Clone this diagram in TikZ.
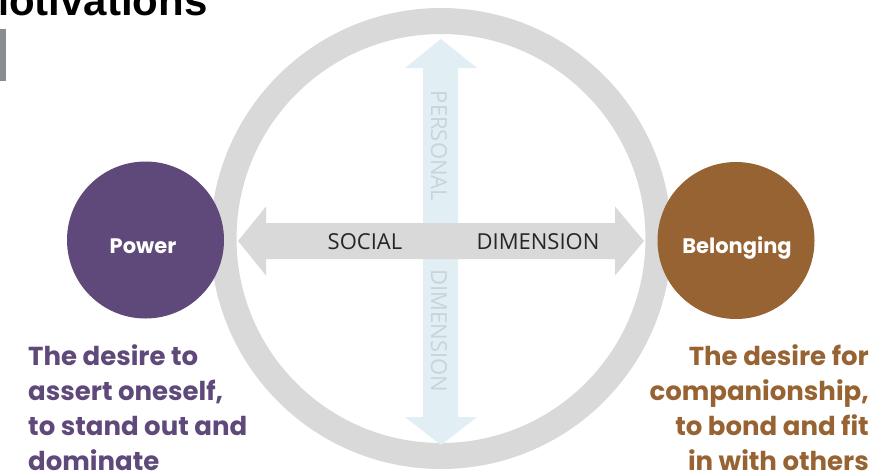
\documentclass[tikz,border=0pt]{standalone}
\usepackage{fontspec}
\setmainfont{Open Sans}
\newfontfamily\titlefont{Liberation Sans}
\newfontfamily\gothic{Poppins}[UprightFont=*-Bold]
\definecolor{ringgray}{HTML}{D9D9D9}
\definecolor{arrowgray}{HTML}{D9D9D9}
\definecolor{paleblue}{HTML}{E1EEF3}
\definecolor{palelabel}{HTML}{CAD4D8}
\definecolor{powerpurple}{HTML}{5F497A}
\definecolor{belongbrown}{HTML}{976332}
\definecolor{barsgray}{HTML}{898D90}
\definecolor{labeldark}{HTML}{262626}
\tikzset{
  motive/.style={circle, minimum size=157pt, inner sep=0pt},
  motivelabel/.style={inner sep=0pt, text=white, anchor=base,
    font=\gothic\fontsize{21}{24}\selectfont},
  axislabel/.style={inner sep=0pt, text=labeldark, font=\fontsize{22}{26}\selectfont},
  axislabelv/.style={inner sep=0pt, text=palelabel, rotate=-90, font=\fontsize{22}{26}\selectfont},
  desc/.style={inner sep=0pt, font=\gothic\fontsize{26}{35}\selectfont}
}
\begin{document}
\begin{tikzpicture}[x=1pt,y=-1pt]
\useasboundingbox (0,0) rectangle (892,475);
\fill[white] (0,0) rectangle (892,475);

% page title and side marker
\node[anchor=base west, inner sep=0pt, font=\titlefont\bfseries\fontsize{42}{46}\selectfont] (title) at (-26,15) {Motivations};
\fill[barsgray] (0,29) rectangle (6,81);

% outer ring
\draw[ringgray, line width=26pt] (441,238.5) circle [radius=217.5];

% personal dimension (vertical double arrow)
\fill[paleblue] (441,39) -- (477,68) -- (458,68) -- (458,417) -- (477,417) -- (441,445)
  -- (405,417) -- (423,417) -- (423,68) -- (405,68) -- cycle;
\node[axislabelv] (personal) at (439,146) {PERSONAL};
\node[axislabelv] (pdim) at (439,331) {DIMENSION};

% social dimension (horizontal double arrow)
\fill[arrowgray] (238,241) -- (266,206.5) -- (266,223) -- (615,223) -- (615,206.5) -- (644,241)
  -- (615,275.5) -- (615,259) -- (266,259) -- (266,275.5) -- cycle;
\node[axislabel] (social) at (365,242) {SOCIAL};
\node[axislabel] (sdim) at (538,242) {DIMENSION};

% the two motives
\node[motive, fill=powerpurple] (power) at (145.5,240) {};
\node[motivelabel] (powerlbl) at (143,253) {Power};
\node[motive, fill=belongbrown] (belong) at (736,240.5) {};
\node[motivelabel] (belonglbl) at (737,253) {Belonging};

% descriptions (base anchor sits on the last line)
\node[desc, text=powerpurple, align=left, anchor=base west] (powertext) at (28,470)
  {The desire to\\assert oneself,\\to stand out and\\dominate};
\node[desc, text=belongbrown, align=right, anchor=base east] (belongtext) at (869,470)
  {The desire for\\companionship,\\to bond and fit\\in with others};
\end{tikzpicture}
\end{document}
